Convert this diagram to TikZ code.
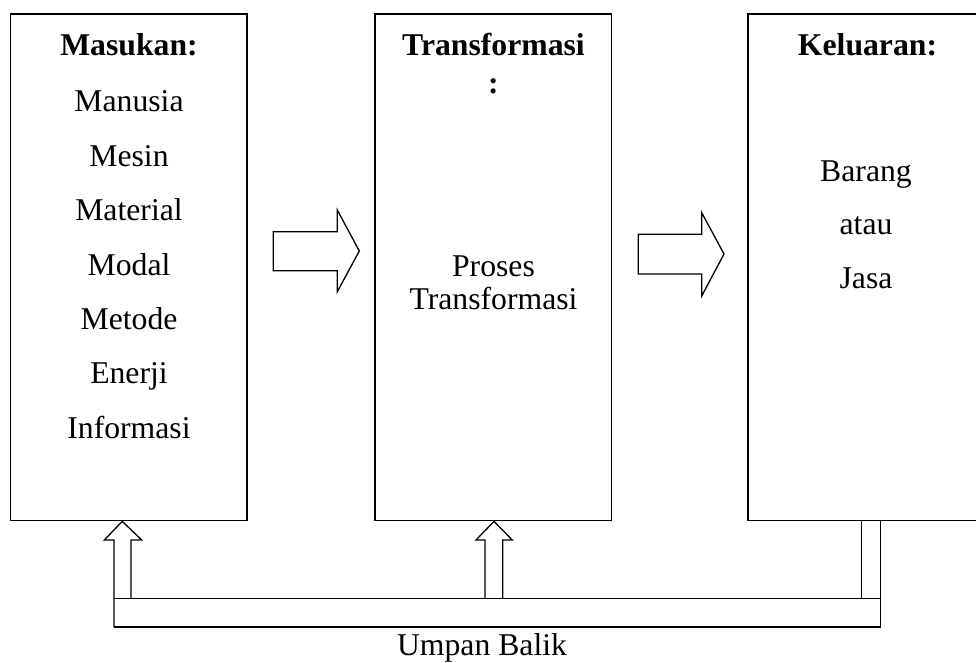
\documentclass[tikz,border=0pt]{standalone}
\usepackage{fontspec}
\setmainfont{Liberation Serif}
\begin{document}
\begin{tikzpicture}[x=1pt,y=-1pt,
  box/.style={draw,line width=1.3pt,inner sep=0pt},
  ln/.style={line width=1.3pt,line join=miter},
  lbl/.style={anchor=base,inner sep=0pt,font=\fontsize{31.7}{37}\selectfont},
  ttl/.style={lbl,font=\fontsize{31.7}{37}\selectfont\bfseries}]
\useasboundingbox (0,0) rectangle (976,662);
\fill[white] (0,0) rectangle (976,662);
% boxes
\node[box,minimum width=236.5pt,minimum height=506.7pt] (in) at (128.75,267.35) {};
\node[box,minimum width=236.7pt,minimum height=506.7pt] (tr) at (493.35,267.35) {};
\node[box,minimum width=242pt,minimum height=506.7pt] (out) at (869,267.35) {};
% left texts
\node[ttl] (t1) at (129,55) {Masukan:};
\node[lbl] (a1) at (129,111.7) {Manusia};
\node[lbl] (a2) at (129,166.2) {Mesin};
\node[lbl] (a3) at (129,220.6) {Material};
\node[lbl] (a4) at (129,275) {Modal};
\node[lbl] (a5) at (129,329.4) {Metode};
\node[lbl] (a6) at (129,383.8) {Enerji};
\node[lbl] (a7) at (129,438.2) {Informasi};
% middle texts
\node[ttl] (t2) at (493.5,55) {Transformasi};
\node[ttl] (t2b) at (493.5,93) {:};
\node[lbl] (b1) at (493.5,276) {Proses};
\node[lbl] (b2) at (493.5,309) {Transformasi};
% right texts
\node[ttl] (t3) at (867.5,55) {Keluaran:};
\node[lbl] (c1) at (866,181) {Barang};
\node[lbl] (c2) at (866,234) {atau};
\node[lbl] (c3) at (866,288) {Jasa};
% block arrows
\draw[ln] (273.3,231.7) -- (337.3,231.7) -- (337.3,210) -- (359.3,251) -- (337.3,291.7) -- (337.3,270.7) -- (273.3,270.7) -- cycle;
\draw[ln] (638.3,234.3) -- (701.7,234.3) -- (701.7,212.7) -- (724,254) -- (701.7,296) -- (701.7,274) -- (638.3,274) -- cycle;
% feedback
\coordinate (fb1) at (in.south -| 122.3,0);
\coordinate (fb2) at (tr.south -| 494,0);
\draw[ln] (114,627) -- (114,540) -- (104.3,540) -- (fb1) -- (141.7,540) -- (131,540) -- (131,598.3);
\draw[ln] (485,598.3) -- (485,540) -- (476,540) -- (fb2) -- (512.3,540) -- (502.7,540) -- (502.7,598.3);
\draw[ln] (114,598.3) -- (880.3,598.3);
\draw[ln] (861.7,598.3) -- (out.south -| 861.7,0);
\draw[ln] (114,627) -- (880.3,627) -- (out.south -| 880.3,0);
\node[lbl] (fbl) at (482,655) {Umpan Balik};
\end{tikzpicture}
\end{document}
